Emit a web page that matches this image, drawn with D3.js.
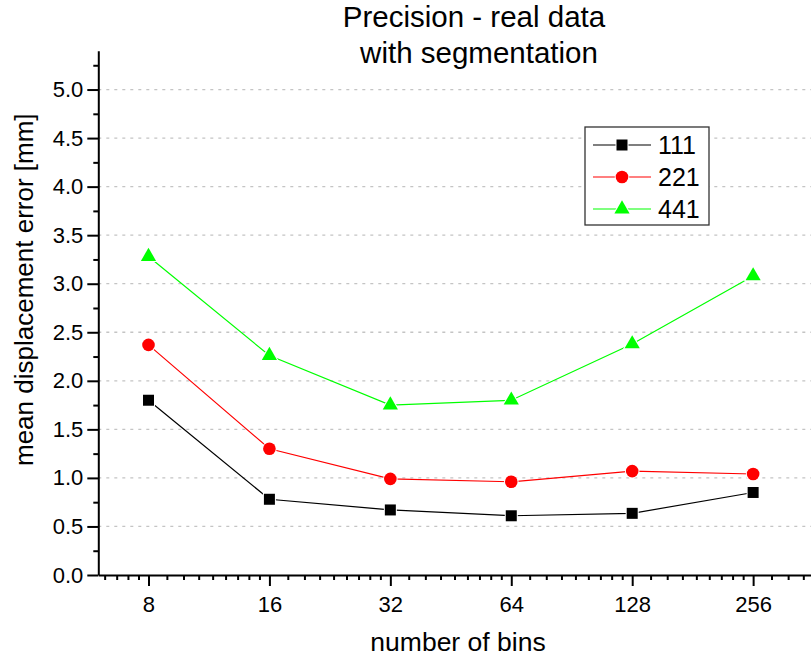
<!DOCTYPE html>
<html>
<head>
<meta charset="utf-8">
<script src="https://cdn.jsdelivr.net/npm/d3@7"></script>
<style>
  body { margin: 0; background: #fff; }
  svg { display: block; font-family: "Liberation Sans", Arial, sans-serif; }
</style>
</head>
<body>
<div id="chart"></div>
<script>
// data
const bins = [8, 16, 32, 64, 128, 256];
const s111 = [1.80, 0.78, 0.67, 0.61, 0.635, 0.85];
const s221 = [2.37, 1.30, 0.99, 0.96, 1.07, 1.04];
const s441 = [3.28, 2.26, 1.75, 1.80, 2.38, 3.08];
const seriesNames = ["111", "221", "441"];
const yTicks = [0, 0.5, 1, 1.5, 2, 2.5, 3, 3.5, 4, 4.5, 5];

const width = 811, height = 658;
const margin = {top: 50.7, right: 0, bottom: 83, left: 98.3};

const svg = d3.select("#chart")
  .append("svg")
  .attr("width", width)
  .attr("height", height);

const xScale = d3.scaleLog().base(2)
  .domain([6, 356.7])
  .range([margin.left, width - margin.right]);

const yScale = d3.scaleLinear()
  .domain([0, 5.4])
  .range([height - margin.bottom, margin.top]);

// grid
svg.append("g")
  .selectAll("line")
  .data(yTicks.filter(d => d > 0))
  .enter()
  .append("line")
    .attr("x1", margin.left)
    .attr("x2", width)
    .attr("y1", d => yScale(d))
    .attr("y2", d => yScale(d))
    .attr("stroke", "#c4c4c4")
    .attr("stroke-width", 1.3)
    .attr("stroke-dasharray", "3,5");

// minor x ticks: 9 subdivisions per octave, like Origin does
let minorX = [];
[4, 8, 16, 32, 64, 128, 256].forEach(b => {
  for (let k = 1; k <= 8; k++) minorX.push(b * (1 + k / 9));
});
minorX = minorX.filter(v => v > 6 && v < 356.7);

const xAxis = svg.append("g")
  .attr("transform", `translate(0,${height - margin.bottom})`)
  .call(d3.axisBottom(xScale).tickValues(bins).tickFormat(d3.format("d"))
    .tickSizeInner(11).tickSizeOuter(0).tickPadding(10));
xAxis.selectAll(".tick line").attr("stroke-width", 2);
xAxis.select(".domain").attr("stroke-width", 2);
xAxis.selectAll("text").attr("font-size", 22).attr("fill", "#000")
  .attr("font-family", "Liberation Sans, Arial, sans-serif");

svg.append("g")
  .attr("transform", `translate(0,${height - margin.bottom})`)
  .call(d3.axisBottom(xScale).tickValues(minorX).tickFormat("").tickSizeInner(5).tickSizeOuter(0))
  .call(g => g.select(".domain").remove())
  .selectAll("line").attr("stroke-width", 2);

const yAxis = svg.append("g")
  .attr("transform", `translate(${margin.left},0)`)
  .call(d3.axisLeft(yScale).tickValues(yTicks).tickFormat(d3.format(".1f"))
    .tickSizeInner(11).tickSizeOuter(0).tickPadding(4));
yAxis.selectAll(".tick line").attr("stroke-width", 2);
yAxis.select(".domain").attr("stroke-width", 2);
yAxis.selectAll("text").attr("font-size", 22).attr("fill", "#000")
  .attr("font-family", "Liberation Sans, Arial, sans-serif");

svg.append("g")
  .attr("transform", `translate(${margin.left},0)`)
  .call(d3.axisLeft(yScale).tickValues(d3.range(0.25, 5.4, 0.5)).tickFormat("").tickSizeInner(5).tickSizeOuter(0))
  .call(g => g.select(".domain").remove())
  .selectAll("line").attr("stroke-width", 2);

// titles
svg.append("text")
  .attr("x", 474).attr("y", 27)
  .attr("text-anchor", "middle").attr("font-size", 29.5)
  .text("Precision - real data");
svg.append("text")
  .attr("x", 479).attr("y", 63)
  .attr("text-anchor", "middle").attr("font-size", 29.5)
  .text("with segmentation");

svg.append("text")
  .attr("x", 458).attr("y", 651)
  .attr("text-anchor", "middle").attr("font-size", 26.5)
  .text("number of bins");

svg.append("text")
  .attr("transform", "translate(33,466) rotate(-90)")
  .attr("text-anchor", "start").attr("font-size", 26)
  .text("mean displacement error [mm]");

// series
const series = [
  {name: seriesNames[0], values: s111, color: "#000000", shape: d3.symbolSquare, size: 121},
  {name: seriesNames[1], values: s221, color: "#ff0000", shape: d3.symbolCircle, size: 125},
  {name: seriesNames[2], values: s441, color: "#00ff00", shape: d3.symbolTriangle, size: 100}
];

const line = d3.line()
  .x((d, i) => xScale(bins[i]))
  .y(d => yScale(d));

series.forEach(s => {
  svg.append("path")
    .datum(s.values)
    .attr("fill", "none")
    .attr("stroke", s.color)
    .attr("stroke-width", 1.2)
    .attr("d", line);

  svg.selectAll(".pt-" + s.name)
    .data(s.values)
    .enter()
    .append("path")
      .attr("class", "pt-" + s.name)
      .attr("transform", (d, i) => `translate(${xScale(bins[i])},${yScale(d)})`)
      .attr("d", d3.symbol().type(s.shape).size(s.size))
      .attr("fill", s.color)
      .attr("stroke", "#fff")
      .attr("stroke-width", 2)
      .attr("paint-order", "stroke");
});

// legend
const legend = svg.append("g").attr("transform", "translate(585,127)");
legend.append("rect")
  .attr("width", 124).attr("height", 98)
  .attr("fill", "#fff").attr("stroke", "#333").attr("stroke-width", 1.3);

series.forEach((s, i) => {
  const y = 18 + i * 32;
  legend.append("line")
    .attr("x1", 8).attr("x2", 66).attr("y1", y).attr("y2", y)
    .attr("stroke", s.color).attr("stroke-width", 1.2);
  legend.append("path")
    .attr("transform", `translate(37,${y})`)
    .attr("d", d3.symbol().type(s.shape).size(s.size))
    .attr("fill", s.color)
    .attr("stroke", "#fff").attr("stroke-width", 2).attr("paint-order", "stroke");
  legend.append("text")
    .attr("x", 73).attr("y", y + 9)
    .attr("font-size", 25)
    .text(s.name);
});
</script>
</body>
</html>
